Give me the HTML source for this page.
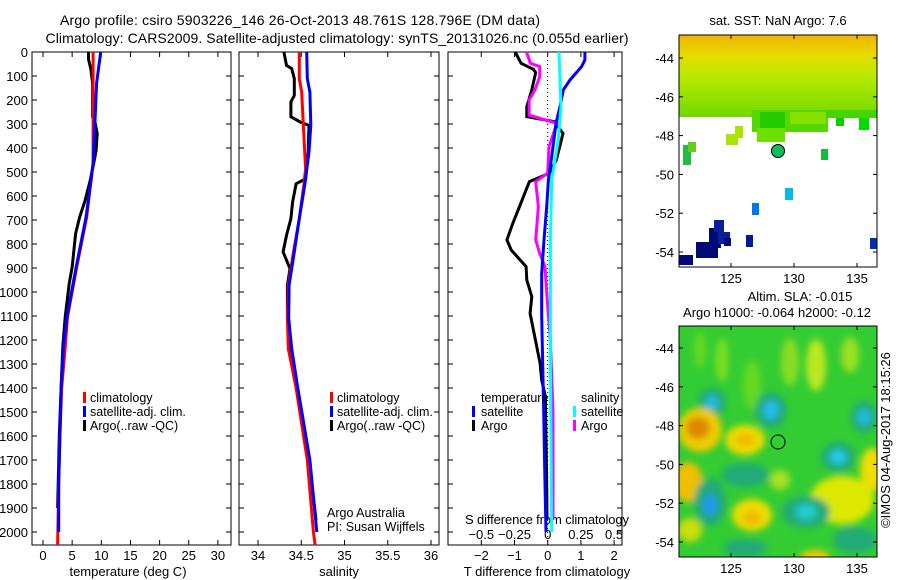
<!DOCTYPE html>
<html><head><meta charset="utf-8"><style>
html,body{margin:0;padding:0;background:#fff}
svg{display:block;font-family:"Liberation Sans",sans-serif}
text{font-size:13px;fill:#000}
text.lg{font-size:12.5px}
</style></head><body>
<svg id="c" width="900" height="580" viewBox="0 0 900 580">
<defs>
<linearGradient id="sstg" x1="0" y1="0" x2="0" y2="1">
<stop offset="0" stop-color="#f2b400"/><stop offset="0.25" stop-color="#e6dc00"/><stop offset="0.5" stop-color="#b8ea00"/><stop offset="0.8" stop-color="#8ee000"/><stop offset="1" stop-color="#70d800"/></linearGradient>
<filter id="blur" x="-20%" y="-20%" width="140%" height="140%"><feGaussianBlur stdDeviation="3.5"/></filter>
<clipPath id="m2clip"><rect x="679" y="326" width="198" height="231"/></clipPath>
</defs>
<text x="300" y="25" text-anchor="middle" textLength="480" style="font-size:14px">Argo profile: csiro 5903226_146 26-Oct-2013 48.761S 128.796E (DM data)</text>
<text x="337" y="43" text-anchor="middle" textLength="583" style="font-size:14px">Climatology: CARS2009. Satellite-adjusted climatology: synTS_20131026.nc (0.055d earlier)</text>
<g id="p1"></g>
<g id="p2"></g>
<g id="p3"></g>

<!-- map 1 -->
<g>
<text x="778" y="25" text-anchor="middle">sat. SST: NaN Argo: 7.6</text>
<rect x="679" y="35" width="198" height="82" fill="url(#sstg)"/>
<rect x="752" y="110" width="76" height="22" fill="#55d800"/>
<rect x="760" y="112" width="25" height="20" fill="#22cc00"/>
<rect x="757" y="128" width="28" height="14" fill="#6ee000"/>
<rect x="790" y="112" width="36" height="12" fill="#88e000"/>
<rect x="826" y="110" width="51" height="8" fill="#44d400"/>
<rect x="859" y="118" width="10" height="12" fill="#00dd00"/>
<rect x="836" y="118" width="8" height="8" fill="#11cc00"/>
<rect x="726" y="134" width="12" height="11" fill="#a6e600"/>
<rect x="735" y="126" width="8" height="12" fill="#a6e600"/>
<rect x="683" y="145" width="8" height="20" fill="#22bb44"/>
<rect x="688" y="142" width="8" height="10" fill="#66cc22"/>
<rect x="821" y="149" width="7" height="11" fill="#11bb44"/>
<rect x="785" y="188" width="8" height="12" fill="#00bbee"/>
<rect x="752" y="203" width="7" height="12" fill="#0077ee"/>
<rect x="679" y="255" width="14" height="10" fill="#000a77"/>
<rect x="696" y="242" width="22" height="16" fill="#000a77"/>
<rect x="709" y="228" width="12" height="20" fill="#000a77"/>
<rect x="714" y="220" width="10" height="12" fill="#0a2299"/>
<rect x="718" y="232" width="12" height="12" fill="#0a2299"/>
<rect x="724" y="238" width="7" height="8" fill="#000a77"/>
<rect x="746" y="235" width="7" height="12" fill="#001a99"/>
<rect x="870" y="238" width="7" height="11" fill="#0033aa"/>
<circle cx="778" cy="151" r="6.5" fill="#11bb55" stroke="#000" stroke-width="1"/>
<rect x="679" y="35" width="198" height="232" fill="none" stroke="#000"/>
</g>

<!-- map 2 -->
<g>
<text x="800" y="301" text-anchor="middle">Altim. SLA: -0.015</text>
<text x="777" y="317" text-anchor="middle">Argo h1000: -0.064 h2000: -0.12</text>
<rect x="679" y="326" width="198" height="231" fill="#33cc33"/>
<g clip-path="url(#m2clip)" filter="url(#blur)">
<ellipse cx="722" cy="360" rx="7" ry="22" fill="#77dd22"/>
<ellipse cx="700" cy="350" rx="6" ry="18" fill="#66d822"/>
<ellipse cx="790" cy="362" rx="9" ry="24" fill="#88dd22"/>
<ellipse cx="816" cy="365" rx="10" ry="26" fill="#bbe822"/>
<ellipse cx="850" cy="355" rx="9" ry="18" fill="#99e022"/>
<ellipse cx="752" cy="385" rx="9" ry="25" fill="#66d822"/>
<ellipse cx="712" cy="402" rx="14" ry="14" fill="#22aa77"/>
<ellipse cx="712" cy="403" rx="7" ry="7" fill="#22bbdd"/>
<ellipse cx="771" cy="410" rx="16" ry="18" fill="#22aa77"/>
<ellipse cx="771" cy="410" rx="8" ry="9" fill="#22bbee"/>
<ellipse cx="864" cy="417" rx="13" ry="16" fill="#22aa77"/>
<ellipse cx="864" cy="417" rx="7" ry="8" fill="#22bbdd"/>
<ellipse cx="700" cy="430" rx="22" ry="22" fill="#eecc00"/>
<ellipse cx="698" cy="428" rx="12" ry="11" fill="#dd8800"/>
<ellipse cx="745" cy="440" rx="20" ry="15" fill="#eedd00"/>
<ellipse cx="745" cy="440" rx="10" ry="7" fill="#eebb00"/>
<ellipse cx="688" cy="482" rx="15" ry="20" fill="#eec000"/>
<ellipse cx="838" cy="457" rx="17" ry="15" fill="#22aa77"/>
<ellipse cx="838" cy="457" rx="8" ry="7" fill="#22ccee"/>
<ellipse cx="872" cy="470" rx="12" ry="22" fill="#eedd00"/>
<ellipse cx="842" cy="500" rx="32" ry="24" fill="#dde800"/>
<ellipse cx="745" cy="475" rx="24" ry="12" fill="#22aa77"/>
<ellipse cx="710" cy="502" rx="16" ry="24" fill="#22aa77"/>
<ellipse cx="710" cy="505" rx="7" ry="11" fill="#2299ee"/>
<ellipse cx="752" cy="515" rx="20" ry="16" fill="#eedd00"/>
<ellipse cx="752" cy="518" rx="9" ry="7" fill="#eeb800"/>
<ellipse cx="806" cy="512" rx="24" ry="16" fill="#22aa77"/>
<ellipse cx="806" cy="512" rx="11" ry="8" fill="#22cccc"/>
<ellipse cx="780" cy="480" rx="10" ry="10" fill="#aae022"/>
<ellipse cx="690" cy="530" rx="12" ry="12" fill="#ccdd11"/>
<ellipse cx="855" cy="540" rx="22" ry="13" fill="#22aa77"/>
<ellipse cx="745" cy="548" rx="22" ry="9" fill="#22aa77"/>
<ellipse cx="815" cy="557" rx="15" ry="7" fill="#eec800"/>
</g>
<circle cx="778" cy="442" r="7" fill="none" stroke="#000" stroke-width="1"/>
<rect x="679" y="326" width="198" height="231" fill="none" stroke="#000"/>
<text transform="translate(890,440) rotate(-90)" text-anchor="middle">©IMOS 04-Aug-2017 18:15:26</text>
</g>
<g id="maxes"></g>
</svg>
<script>
// ---- data ----
const tClimDepth=[0,130,296,464,687,895,1104,1229,1400,1600,1800,2054];
const tClimVal=[8.6,8.6,8.6,8.6,7.5,5.8,4.2,3.8,3.2,2.9,2.7,2.5];
const tSatDepth=[0,130,296,464,687,895,1104,1229,1400,1600,1800,2000];
const tSatVal=[9.9,9.2,8.9,8.6,7.4,5.7,4.1,3.5,3.1,2.9,2.7,2.7];
const tArgoDepth=[0,30,70,130,270,290,340,410,464,535,620,687,757,826,895,965,1104,1229,1400,1600,1800,1900];
const tArgoVal=[7.8,7.8,8.2,8.5,8.5,8.9,9.3,9.1,8.7,8.1,7.2,6.3,5.6,5.3,5.0,4.5,3.8,3.4,3.1,2.8,2.6,2.5];
const sClimDepth=[0,111,167,278,486,556,694,833,972,1110,1236,1400,1700,2000,2054];
const sClimVal=[34.477,34.477,34.505,34.52,34.55,34.53,34.477,34.41,34.35,34.34,34.35,34.44,34.57,34.64,34.66];
const sSatDepth=[0,111,167,306,417,556,694,833,972,1110,1236,1400,1700,2000];
const sSatVal=[34.563,34.57,34.6,34.61,34.59,34.54,34.477,34.42,34.36,34.355,34.39,34.46,34.6,34.68];
const sArgoDepth=[0,56,69,111,181,208,270,292,306,417,528,549,625,694,764,833,903,972,1110,1236,1400,1700,1950];
const sArgoVal=[34.30,34.33,34.39,34.42,34.42,34.38,34.38,34.49,34.59,34.58,34.55,34.44,34.40,34.38,34.33,34.29,34.37,34.34,34.34,34.36,34.45,34.59,34.67];
const dTSatDepth=[0,33,61,117,158,228,297,436,533,644,783,922,1100,1300,1500,1800,2000];
const dTSatVal=[1.12,1.12,1.02,0.67,0.47,0.37,0.25,0.12,0.02,-0.03,-0.11,-0.18,-0.18,-0.15,-0.12,-0.08,-0.05];
const dTArgoDepth=[0,47,72,86,158,228,269,290,339,394,450,505,540,644,714,783,825,894,950,1019,1089,1158,1297,1367,1436,1600,1800,1950];
const dTArgoVal=[-0.98,-0.8,-0.43,-0.36,-0.48,-0.63,-0.63,0.2,0.46,0.36,0.26,0.05,-0.55,-0.85,-1.05,-1.23,-1.1,-0.65,-0.63,-0.48,-0.53,-0.43,-0.23,-0.18,-0.07,-0.05,-0.03,-0.02];
const dSSatDepth=[0,228,367,533,783,1019,1300,1600,2000];
const dSSatVal=[0.085,0.1,0.08,0.03,0.02,0.02,0.02,0.025,0.03];
const dSArgoDepth=[0,47,61,103,158,200,263,283,297,394,505,540,644,783,839,894,1019,1200,1500,1800,1950];
const dSArgoVal=[-0.16,-0.13,-0.06,-0.06,-0.096,-0.14,-0.14,-0.02,0.07,0.01,0.0,-0.09,-0.07,-0.09,-0.06,-0.02,-0.005,0.02,0.04,0.04,0.04];
const depthTicks=[0,100,200,300,400,500,600,700,800,900,1000,1100,1200,1300,1400,1500,1600,1700,1800,1900,2000];
const tTicks=[0,5,10,15,20,25,30];
const sTicks=[34,34.5,35,35.5,36];
const sTickLabels=["34","34.5","35","35.5","36"];
const dTTicks=[-2,-1,0,1,2];
const dSTicks=[-0.5,-0.25,0,0.25,0.5];
const dSTickLabels=["-0.5","-0.25","0","0.25","0.5"];
const latTicks=[-44,-46,-48,-50,-52,-54];
const lonTicks=[125,130,135];

// ---- scales ----
const NS="http://www.w3.org/2000/svg";
const yD=d=>52+0.24*d;
const x1=t=>43+5.83*t;
const x2=s=>258+86.5*(s-34);
const x3=t=>547.7+33.2*t;
const x3s=s=>547.7+132.8*s;
const P=[{g:'p1',l:32,r:231},{g:'p2',l:239,r:439},{g:'p3',l:448,r:622}];
const TOP=52,BOT=545;
function mk(parent,tag,attrs){const e=document.createElementNS(NS,tag);for(const k in attrs)e.setAttribute(k,attrs[k]);parent.appendChild(e);return e;}
function line(g,depths,vals,sx,color,name){
  const pts=depths.map((d,i)=>sx(vals[i]).toFixed(1)+','+yD(d).toFixed(1)).join(' ');
  const e=mk(g,'polyline',{points:pts,fill:'none',stroke:color,'stroke-width':3,'stroke-linejoin':'miter'});
  
  
}
function txt(g,x,y,s,anchor,name){const e=mk(g,'text',{x:x,y:y,'text-anchor':anchor||'start'});e.textContent=s;
  
  
  return e;}
P.forEach((p,i)=>{
  const g=document.getElementById(p.g);
  const f=mk(g,'rect',{x:p.l,y:TOP,width:p.r-p.l,height:BOT-TOP,fill:'none',stroke:'#000','stroke-width':1});
  
  
  depthTicks.forEach(d=>{mk(g,'line',{x1:p.l,x2:p.l+5,y1:yD(d),y2:yD(d),stroke:'#000'});mk(g,'line',{x1:p.r-5,x2:p.r,y1:yD(d),y2:yD(d),stroke:'#000'});});
});
const g1=document.getElementById('p1'),g2=document.getElementById('p2'),g3=document.getElementById('p3');
depthTicks.forEach(d=>txt(g1,28,yD(d)+5,String(d),'end','depth-tick-label'));
tTicks.forEach(t=>{mk(g1,'line',{x1:x1(t),x2:x1(t),y1:TOP,y2:TOP+5,stroke:'#000'});mk(g1,'line',{x1:x1(t),x2:x1(t),y1:BOT-5,y2:BOT,stroke:'#000'});txt(g1,x1(t),560,String(t),'middle','temperature-tick-label');});
sTicks.forEach((s,i)=>{mk(g2,'line',{x1:x2(s),x2:x2(s),y1:TOP,y2:TOP+5,stroke:'#000'});mk(g2,'line',{x1:x2(s),x2:x2(s),y1:BOT-5,y2:BOT,stroke:'#000'});txt(g2,x2(s),560,sTickLabels[i],'middle','salinity-tick-label');});
dTTicks.forEach(t=>{mk(g3,'line',{x1:x3(t),x2:x3(t),y1:TOP,y2:TOP+5,stroke:'#000'});mk(g3,'line',{x1:x3(t),x2:x3(t),y1:BOT-5,y2:BOT,stroke:'#000'});txt(g3,x3(t),560,String(t).replace('-','\u2212'),'middle','t-diff-tick-label');});
dSTicks.forEach((s,i)=>txt(g3,x3s(s),539,dSTickLabels[i].replace('-','\u2212'),'middle','s-diff-tick-label'));
txt(g1,128,576,'temperature (deg C)','middle','x-axis-title-temperature');
txt(g2,339,576,'salinity','middle','x-axis-title-salinity');
txt(g3,547,576,'T difference from climatology','middle','x-axis-title-t-diff');
txt(g3,547,524,'S difference from climatology','middle','s-diff-axis-title').setAttribute('textLength','164');
const dz=mk(g3,'line',{x1:x3(0),x2:x3(0),y1:60,y2:BOT,stroke:'#000','stroke-dasharray':'1,3'});


// series
line(g1,tArgoDepth,tArgoVal,x1,'#000','argo-temperature');
line(g1,tClimDepth,tClimVal,x1,'#f00','climatology-temperature');
line(g1,tSatDepth,tSatVal,x1,'#00f','satellite-temperature');
line(g2,sArgoDepth,sArgoVal,x2,'#000','argo-salinity');
line(g2,sClimDepth,sClimVal,x2,'#f00','climatology-salinity');
line(g2,sSatDepth,sSatVal,x2,'#00f','satellite-salinity');
line(g3,dTArgoDepth,dTArgoVal,x3,'#000','argo-t-diff');
line(g3,dSArgoDepth,dSArgoVal,x3s,'#f0f','argo-s-diff');
line(g3,dTSatDepth,dTSatVal,x3,'#00f','satellite-t-diff');
line(g3,dSSatDepth,dSSatVal,x3s,'#0ff','satellite-s-diff');
// legends
function leg(g,bx,tx,y,color,label){const b=mk(g,'rect',{x:bx,y:y-10,width:3,height:11,fill:color});
  
  
  if(label)txt(g,tx,y,label,'start','legend-entry').setAttribute('class','lg');}
[[g1,83,90],[g2,330,337]].forEach(([g,bx,tx])=>{
  leg(g,bx,tx,402,'#f00','climatology');leg(g,bx,tx,416,'#00f','satellite-adj. clim.');leg(g,bx,tx,430,'#000','Argo(..raw -QC)');});
txt(g3,481,402,'temperature','start','legend-title-temperature').setAttribute('class','lg');
txt(g3,581,402,'salinity','start','legend-title-salinity').setAttribute('class','lg');
leg(g3,472,481,416,'#00f','satellite');leg(g3,472,481,430,'#000','Argo');
leg(g3,573,581,416,'#0ff','satellite');leg(g3,573,581,430,'#f0f','Argo');
txt(g2,327,517,'Argo Australia','start','credit-line-1').setAttribute('class','lg');
txt(g2,327,531,'PI: Susan Wijffels','start','credit-line-2').setAttribute('class','lg');
// map axes
const ma=document.getElementById('maxes');
const lonX=l=>731+(l-125)*12.6;
[[35,267,58],[326,557,348]].forEach(([t,b,y44])=>{
  latTicks.forEach(la=>{const y=y44+(-44-la)*19.4;mk(ma,'line',{x1:679,x2:683,y1:y,y2:y,stroke:'#000'});mk(ma,'line',{x1:873,x2:877,y1:y,y2:y,stroke:'#000'});txt(ma,674,y+5,String(la),'end','latitude-tick-label');});
  lonTicks.forEach(lo=>{const x=lonX(lo);mk(ma,'line',{x1:x,x2:x,y1:t,y2:t+4,stroke:'#000'});mk(ma,'line',{x1:x,x2:x,y1:b-4,y2:b,stroke:'#000'});txt(ma,x,b+16,String(lo),'middle','longitude-tick-label');});
});
</script>
</body></html>
